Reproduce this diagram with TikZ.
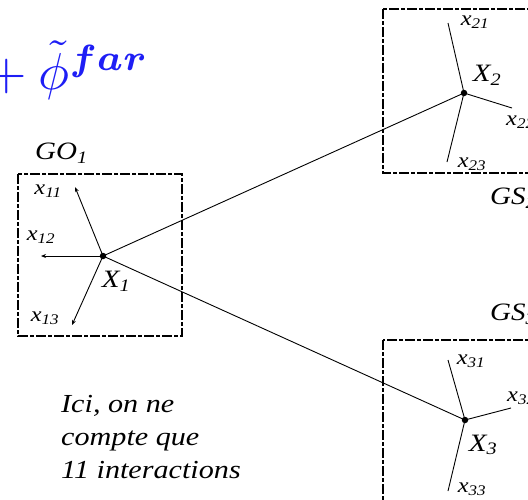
\documentclass[tikz,border=0pt]{standalone}
\usepackage{amsmath,bm,graphicx}
\usepackage{fontspec}
\newfontfamily\tms[FakeStretch=1.16]{Liberation Serif}
\usetikzlibrary{arrows.meta}
\begin{document}
\begin{tikzpicture}[x=1pt,y=-1pt,
  grp/.style={draw=black,line width=1.1pt,dash pattern=on 10pt off 2pt on 4pt off 2pt},
  lnk/.style={draw=black,line width=0.9pt},
  dotn/.style={circle,fill=black,inner sep=0pt,minimum size=6.5pt},
  lbl/.style={font=\tms\fontsize{21}{26}\selectfont\itshape,inner sep=0pt},
  big/.style={font=\tms\fontsize{25}{30}\selectfont\itshape,inner sep=0pt},
  tip/.style={-{Stealth[length=5pt,width=4pt]}}]
\clip (0,0) rectangle (528,499);
\useasboundingbox (0,0) rectangle (528,499);
% boxes
\draw[grp] (18,174) rectangle (182,336);
\draw[grp] (383,9) rectangle (560,173);
\draw[grp] (383,340) rectangle (560,530);
% centres
\node[dotn] (X1) at (103,256) {};
\node[dotn] (X2) at (464,93) {};
\node[dotn] (X3) at (465,420) {};
% leaf ends
\coordinate (e11) at (75,187);
\coordinate (e12) at (41,256);
\coordinate (e13) at (72,325);
\coordinate (e21) at (448,23);
\coordinate (e22) at (512,108);
\coordinate (e23) at (447,162);
\coordinate (e31) at (448,360);
\coordinate (e32) at (511,408);
\coordinate (e33) at (448,491);
% connectors
\draw[lnk] (X1.center) -- (X2.center);
\draw[lnk] (X1.center) -- (X3.center);
\draw[lnk,tip] (X1.center) -- (e11);
\draw[lnk,tip] (X1.center) -- (e12);
\draw[lnk,tip] (X1.center) -- (e13);
\draw[lnk] (X2.center) -- (e21);
\draw[lnk] (X2.center) -- (e22);
\draw[lnk] (X2.center) -- (e23);
\draw[lnk] (X3.center) -- (e31);
\draw[lnk] (X3.center) -- (e32);
\draw[lnk] (X3.center) -- (e33);
% labels
\node[big,anchor=west] (go1) at (35,153) {GO\textsubscript{1}};
\node[big,anchor=west] (gs2) at (490,198) {GS\textsubscript{2}};
\node[big,anchor=west] (gs3) at (490,314) {GS\textsubscript{3}};
\node[lbl] (l11) at (48,191) {x\textsubscript{11}};
\node[lbl] (l12) at (41,237) {x\textsubscript{12}};
\node[lbl] (l13) at (45,318) {x\textsubscript{13}};
\node[big] (n1) at (116,281) {X\textsubscript{1}};
\node[lbl] (l21) at (475,22) {x\textsubscript{21}};
\node[lbl,anchor=west] (l22) at (506,122) {x\textsubscript{22}};
\node[lbl] (l23) at (472,164) {x\textsubscript{23}};
\node[big] (n2) at (487,75) {X\textsubscript{2}};
\node[lbl] (l31) at (471,361) {x\textsubscript{31}};
\node[lbl,anchor=west] (l32) at (507,398) {x\textsubscript{32}};
\node[lbl] (l33) at (472,489) {x\textsubscript{33}};
\node[big] (n3) at (483,445) {X\textsubscript{3}};
\node[font=\tms\fontsize{26}{33}\selectfont\itshape,align=left,anchor=base west,inner sep=0pt] (note) at (61,478) {Ici, on ne\\compte que\\11 interactions};
\node[text={rgb,255:red,30;green,30;blue,245},anchor=base west,inner sep=0pt] (far) at (-25,89) {\scalebox{5.2}{${}+\tilde{\phi}^{\bm{far}}$}};
\end{tikzpicture}
\end{document}
